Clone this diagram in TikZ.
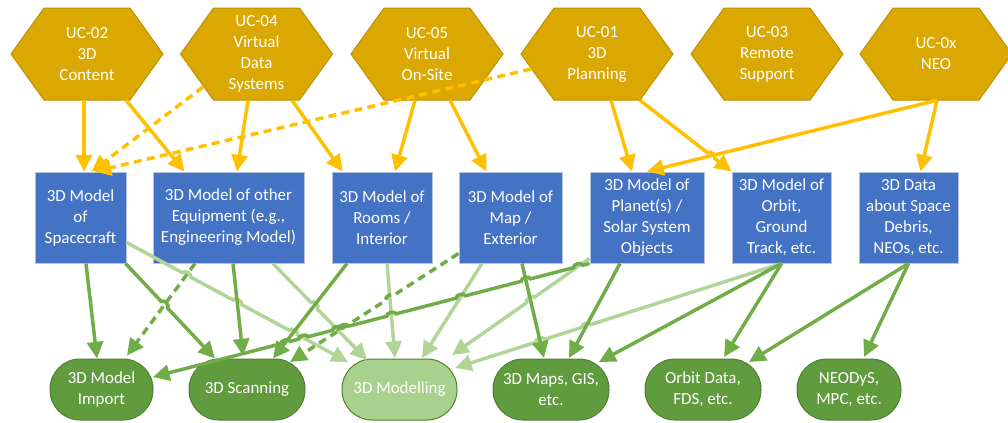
\documentclass[tikz,border=0pt]{standalone}
\usepackage{fontspec}
\setmainfont{Carlito}
\usetikzlibrary{calc,arrows.meta}

\definecolor{ucfill}{HTML}{DAA800}
\definecolor{ucline}{HTML}{BF9000}
\definecolor{ucarrow}{HTML}{FFC000}
\definecolor{modelfill}{HTML}{4472C4}
\definecolor{modelline}{HTML}{B4C3E0}
\definecolor{toolfill}{HTML}{609C3E}
\definecolor{toolline}{HTML}{507F33}
\definecolor{toollight}{HTML}{A9D18E}
\definecolor{linkdark}{HTML}{70AD47}
\definecolor{linklight}{HTML}{B0D597}

% line hop: #1 bend side, #2 crossing point, #3 start of line, #4 end of line
\newcommand\hop[4]{-- ($(#2)!3.5pt!(#3)$) to[bend #1=90] ($(#2)!3.5pt!(#4)$)}

\begin{document}
\begin{tikzpicture}[x=0.75pt,y=-0.75pt,
  every node/.style={font=\fontsize{12.7}{15.75}\selectfont, text=white, align=center, inner sep=0pt},
  hexshape/.style={fill=ucfill, draw=ucline, line width=0.75pt},
  uclabel/.style={minimum width=114pt, minimum height=69pt},
  model/.style={fill=modelfill, draw=modelline, line width=0.75pt, minimum height=68.25pt},
  tool/.style={fill=toolfill, draw=toolline, line width=0.75pt, minimum height=45.75pt, rounded corners=22.5pt},
  toolpale/.style={tool, fill=toollight},
  conn/.style={line width=2.6pt, -{Triangle[length=12.5pt,width=12pt]}},
  uclink/.style={conn, draw=ucarrow},
  uchint/.style={uclink, dash pattern=on 6pt off 4pt},
  dk/.style={conn, draw=linkdark},
  dkdash/.style={dk, dash pattern=on 6pt off 4pt},
  lt/.style={conn, draw=linklight},
]
\fill[white] (0,0) rectangle (1008,422);
\useasboundingbox (0,0) rectangle (1008,422);

% use cases
\foreach \n/\x/\t in {u02/87/{UC-02\\3D\\Content}, u04/256.5/{UC-04\\Virtual\\Data\\Systems},
    u05/427/{UC-05\\Virtual\\On-Site}, u01/597/{UC-01\\3D\\Planning},
    u03/767/{UC-03\\Remote\\Support}, u0x/936/{UC-0x\\NEO}}{
  \path[hexshape] (\x-76,54) -- (\x-43,8) -- (\x+43,8) -- (\x+76,54) -- (\x+43,100) -- (\x-43,100) -- cycle;
  \node[uclabel] (\n) at (\x,54) {\t};
}

% 3D models
\node[model, minimum width=68.25pt]  (b1) at (80.5,217.5)  {3D Model\\of\\Spacecraft};
\node[model, minimum width=113.25pt] (b2) at (228.5,217.5) {3D Model of other\\Equipment (e.g.,\\Engineering Model)};
\node[model, minimum width=75pt]     (b3) at (382,217.5)   {3D Model of\\Rooms /\\Interior};
\node[model, minimum width=77.25pt]  (b4) at (510.5,217.5) {3D Model of\\Map /\\Exterior};
\node[model, minimum width=85.5pt]   (b5) at (647,217.5)   {3D Model of\\Planet(s) /\\Solar System\\Objects};
\node[model, minimum width=74.25pt]  (b6) at (781.5,217.5) {3D Model of\\Orbit,\\Ground\\Track, etc.};
\node[model, minimum width=74.25pt]  (b7) at (908.5,217.5) {3D Data\\about Space\\Debris,\\NEOs, etc.};

% tools
\node[tool, minimum width=77.25pt]     (p1) at (101.5,389.5) {3D Model\\Import};
\node[tool, minimum width=87pt]        (p2) at (247,389.5)   {3D Scanning};
\node[toolpale, minimum width=86.25pt] (p3) at (399.5,389.5) {3D Modelling};
\node[tool, minimum width=87pt]        (p4) at (551,389.5)   {3D Maps, GIS,\\etc.};
\node[tool, minimum width=87pt]        (p5) at (703,389.5)   {Orbit Data,\\FDS, etc.};
\node[tool, minimum width=78pt]        (p6) at (849,389.5)   {NEODyS,\\MPC, etc.};

% connector end points (use case -> model)
\coordinate (y1s) at ($(u02.south)+(-3,0)$);   \coordinate (y1e) at ($(b1.north)+(3.5,0)$);
\coordinate (y2s) at ($(u02.south)+(39,0)$);   \coordinate (y2e) at ($(b2.north west)+(32,0)$);
\coordinate (y3s) at ($(u04.south)+(-8.5,0)$); \coordinate (y3e) at ($(b2.north)+(8.5,0)$);
\coordinate (y4s) at ($(u04.south)+(35.5,0)$); \coordinate (y4e) at ($(b3.north west)+(11,0)$);
\coordinate (y5s) at ($(u04)+(-53.5,33)$);     \coordinate (y5e) at ($(b1.north)+(11,0)$);
\coordinate (y6s) at ($(u01)+(-66,15)$);       \coordinate (y6e) at ($(b1.north)+(14,0)$);
\coordinate (y7s) at ($(u05.south)+(-12,0)$);  \coordinate (y7e) at ($(b3.north)+(13,0)$);
\coordinate (y8s) at ($(u05.south)+(23,0)$);   \coordinate (y8e) at ($(b4.north west)+(28,0)$);
\coordinate (y9s) at ($(u01.south)+(14,0)$);   \coordinate (y9e) at ($(b5.north)+(-15,0)$);
\coordinate (y10s) at ($(u01.south)+(43,0)$);  \coordinate (y10e) at (b6.north west);
\coordinate (y11s) at ($(u0x.south)+(1,0)$);   \coordinate (y11e) at ($(b7.north)+(12,0)$);
\coordinate (y12e) at (b5.north);

% connector end points (model -> tool)
\coordinate (g1s) at ($(b1.south)+(5.5,0)$);        \coordinate (g1e) at ($(p1)+(-4.5,-31)$);
\coordinate (g2s) at ($(b1.south east)+(-1,0)$);    \coordinate (g2e) at ($(p2)+(-32,-31)$);
\coordinate (g3s) at ($(b1.south east)+(0,-21)$);   \coordinate (g3e) at ($(p3)+(-51.5,-27.5)$);
\coordinate (g4s) at ($(b2.south)+(-33.5,0)$);      \coordinate (g4e) at ($(p1)+(25.5,-34)$);
\coordinate (g5s) at ($(b2.south)+(4.5,0)$);        \coordinate (g5e) at ($(p2)+(-4,-34)$);
\coordinate (g6s) at ($(b2.south)+(44.5,0)$);       \coordinate (g6e) at ($(p3)+(-32.5,-29.5)$);
\coordinate (g7s) at ($(b3.south)+(-35,0)$);        \coordinate (g7e) at ($(p2)+(26,-31)$);
\coordinate (g8s) at ($(b3.south)+(5,0)$);          \coordinate (g8e) at ($(p3)+(-4.5,-31.5)$);
\coordinate (g9s) at ($(b4.south west)+(0,-10)$);   \coordinate (g9e) at ($(p2)+(43,-27.5)$);
\coordinate (g10s) at ($(b4.south)+(-28.5,0)$);     \coordinate (g10e) at ($(p3)+(22.5,-31.5)$);
\coordinate (g11s) at ($(b4.south)+(11.5,0)$);      \coordinate (g11e) at ($(p4)+(-7,-31.5)$);
\coordinate (g12s) at ($(b5.south west)+(0,-5)$);   \coordinate (g12e) at ($(p3)+(52.5,-34.5)$);
\coordinate (g13s) at (b5.south west);              \coordinate (g13e) at ($(p1)+(51.5,-12.5)$);
\coordinate (g14s) at ($(b5.south)+(-27,0)$);       \coordinate (g14e) at ($(p4)+(18,-31.5)$);
\coordinate (g15e) at ($(p3)+(55.5,-21.5)$);
\coordinate (g16e) at ($(p4)+(48,-27.5)$);
\coordinate (g17e) at ($(p5)+(21,-32.5)$);
\coordinate (g18e) at ($(p5)+(46,-27.5)$);
\coordinate (g19e) at ($(p6)+(15,-32.5)$);

% crossing points where a line hops over another
\coordinate (hy) at (intersection of y10s--y10e and y11s--y12e);
\coordinate (h2a) at (intersection of g2s--g2e and g4s--g4e);
\coordinate (h3a) at (intersection of g3s--g3e and g4s--g4e);
\coordinate (h3b) at (intersection of g3s--g3e and g5s--g5e);
\coordinate (h3c) at (intersection of g3s--g3e and g7s--g7e);
\coordinate (h6a) at (intersection of g6s--g6e and g7s--g7e);
\coordinate (h9a) at (intersection of g9s--g9e and g8s--g8e);
\coordinate (h12a) at (intersection of g12s--g12e and g11s--g11e);
\coordinate (h15a) at (intersection of b6.south--g15e and g14s--g14e);
\coordinate (h15b) at (intersection of b6.south--g15e and g11s--g11e);
\coordinate (h13a) at (intersection of g13s--g13e and g12s--g12e);
\coordinate (h13b) at (intersection of g13s--g13e and g11s--g11e);
\coordinate (h13c) at (intersection of g13s--g13e and g10s--g10e);
\coordinate (h13d) at (intersection of g13s--g13e and g8s--g8e);
\coordinate (h13e) at (intersection of g13s--g13e and g9s--g9e);
\coordinate (h13f) at (intersection of g13s--g13e and g6s--g6e);
\coordinate (h13g) at (intersection of g13s--g13e and g3s--g3e);
\coordinate (h13h) at (intersection of g13s--g13e and g7s--g7e);

% use case -> model
\draw[uchint] (y5s) -- (y5e);
\draw[uchint] (y6s) -- (y6e);
\draw[uclink] (y1s) -- (y1e);
\draw[uclink] (y2s) -- (y2e);
\draw[uclink] (y3s) -- (y3e);
\draw[uclink] (y4s) -- (y4e);
\draw[uclink] (y7s) -- (y7e);
\draw[uclink] (y8s) -- (y8e);
\draw[uclink] (y9s) -- (y9e);
\draw[uclink] (y11s) -- (y11e);
\draw[uclink] (y11s) -- (y12e);
\draw[uclink] (y10s) \hop{left}{hy}{y10s}{y10e} -- (y10e);

% model -> tool, pale links
\draw[lt] (g3s) \hop{left}{h3a}{g3s}{g3e} \hop{left}{h3b}{g3s}{g3e} \hop{left}{h3c}{g3s}{g3e} -- (g3e);
\draw[lt] (g6s) \hop{left}{h6a}{g6s}{g6e} -- (g6e);
\draw[lt] (g8s) -- (g8e);
\draw[lt] (g10s) -- (g10e);
\draw[lt] (g12s) \hop{right}{h12a}{g12s}{g12e} -- (g12e);
\draw[lt] (b6.south) \hop{right}{h15a}{b6.south}{g15e} \hop{right}{h15b}{b6.south}{g15e} -- (g15e);

% model -> tool, main links
\draw[dk] (g1s) -- (g1e);
\draw[dkdash] (g4s) -- (g4e);
\draw[dk] (g2s) \hop{left}{h2a}{g2s}{g2e} -- (g2e);
\draw[dk] (g5s) -- (g5e);
\draw[dk] (g7s) -- (g7e);
\draw[dkdash] (g9s) \hop{right}{h9a}{g9s}{g9e} -- (g9e);
\draw[dk] (g11s) -- (g11e);
\draw[dk] (g14s) -- (g14e);
\draw[dk] (b6.south) -- (g16e);
\draw[dk] (b6.south) -- (g17e);
\draw[dk] (b7.south) -- (g18e);
\draw[dk] (b7.south) -- (g19e);
\draw[dk] (g13s) \hop{right}{h13a}{g13s}{g13e} \hop{right}{h13b}{g13s}{g13e}
  \hop{right}{h13c}{g13s}{g13e} \hop{right}{h13d}{g13s}{g13e}
  \hop{right}{h13e}{g13s}{g13e} \hop{right}{h13f}{g13s}{g13e}
  \hop{right}{h13g}{g13s}{g13e} \hop{right}{h13h}{g13s}{g13e} -- (g13e);
\end{tikzpicture}
\end{document}
